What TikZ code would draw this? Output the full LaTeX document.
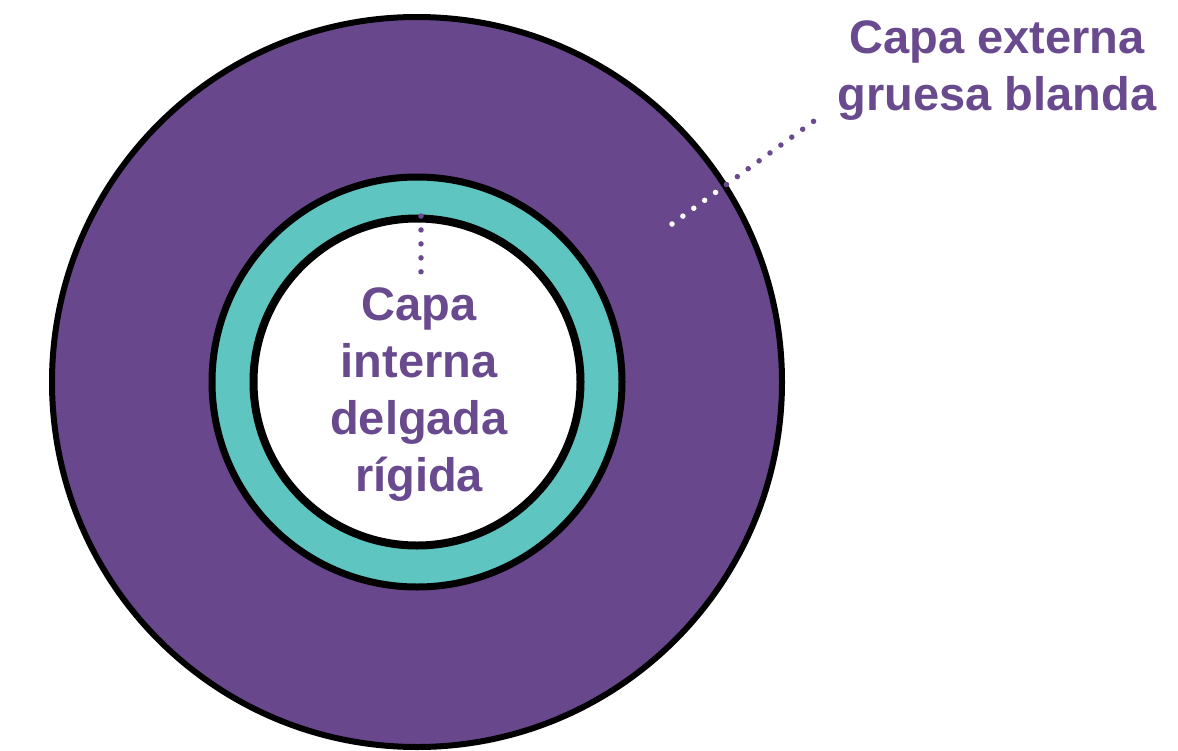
\documentclass[tikz,border=0pt]{standalone}
\usepackage{fontspec}
\setmainfont{Liberation Sans}
\definecolor{outerpurple}{HTML}{68478C}
\definecolor{labelpurple}{HTML}{694A8F}
\definecolor{ringteal}{HTML}{5EC5C0}
\tikzset{
  labeltext/.style={text=labelpurple, font=\fontsize{47}{57}\selectfont\bfseries, align=center, inner sep=0pt, anchor=base},
  dotline/.style={line width=5.5pt, line cap=round, dash pattern=on 0pt off #1},
}
\begin{document}
\begin{tikzpicture}[x=1pt, y=-1pt]
\useasboundingbox (0,0) rectangle (1178,750);
\fill[white] (0,0) rectangle (1178,750);
% outer thick soft layer
\node[circle, minimum size=730pt, inner sep=0pt, fill=outerpurple, draw=black, line width=6pt] (outer) at (417,382) {};
% teal ring
\node[circle, minimum size=410pt, inner sep=0pt, fill=ringteal, draw=black, line width=7pt] (ring) at (417,382) {};
% inner white
\node[circle, minimum size=327pt, inner sep=0pt, fill=white, draw=black, line width=8pt] (inner) at (417,382) {};
% labels (base anchor = baseline of last line)
\node[labeltext] (innerlabel) at (419,491) {Capa\\interna\\delgada\\rígida};
\node[labeltext] (outerlabel) at (997,110) {Capa externa\\gruesa blanda};
% leader lines
\coordinate (extA) at (672,224);
\coordinate (extB) at (814,121);
\draw[dotline=13.45pt, labelpurple] (extA) -- (extB);
\begin{scope}
\clip (417,382) circle (363pt);
\draw[dotline=13.45pt, white] (extA) -- (extB);
\end{scope}
\coordinate (intA) at (421,216);
\coordinate (intB) at (421,272);
\draw[dotline=13.95pt, labelpurple] (intA) -- (intB);
\end{tikzpicture}
\end{document}
